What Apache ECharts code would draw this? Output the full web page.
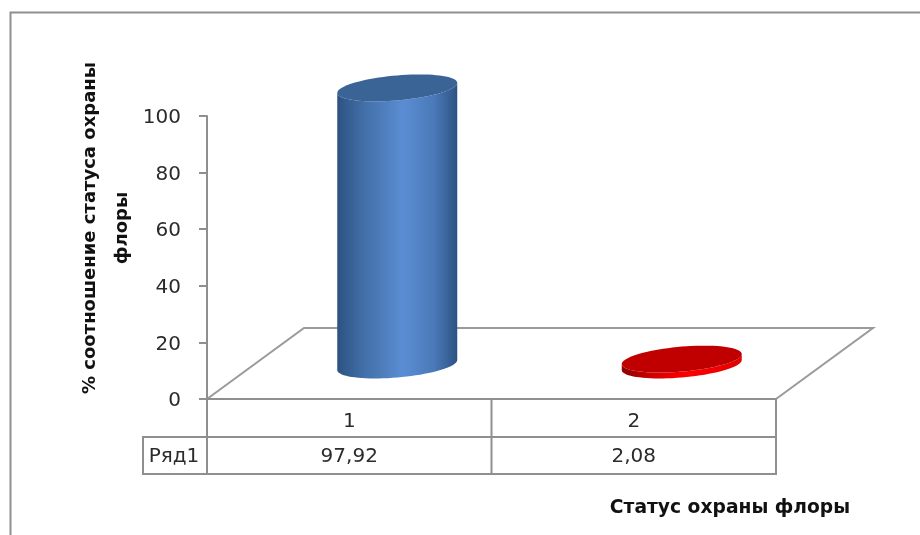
<!DOCTYPE html>
<html><head><meta charset="utf-8">
<style>html,body{margin:0;padding:0;background:#fff}#c{width:920px;height:535px}</style>
<script src="https://cdn.jsdelivr.net/npm/echarts@6/dist/echarts.min.js"></script>
</head><body><div id="c"></div>
<script>
var categories = ['1', '2'];
var seriesName = 'Ряд1';
var values = [97.92, 2.08];
var valueLabels = ['97,92', '2,08'];
var yTitle = '% соотношение статуса охраны\nфлоры';
var xTitle = 'Статус охраны флоры';
var FONT = '"DejaVu Sans", sans-serif';
var GRAY = '#8f8f8f';
var TXT = '#2b2b2b';

var bodyFills = [
  [[0,'#2c5282'],[0.22,'#426fa8'],[0.55,'#5a8dd3'],[0.8,'#4b7ab9'],[1,'#2d5385']],
  [[0,'#8c0000'],[0.25,'#d00000'],[0.55,'#ff0000'],[1,'#e00000']]
];
var topFills = ['#3b6496', '#c00000'];

function ring(cx, cy, from, to, n) {
  var pts = [];
  for (var i = 0; i <= n; i++) {
    var t = from + (to - from) * i / n;
    pts.push([cx + 60 * Math.cos(t), cy - 5 * Math.cos(t) + 12.5 * Math.sin(t)]);
  }
  return pts;
}

var chart = echarts.init(document.getElementById('c'), null, {renderer: 'canvas'});
chart.setOption({
  animation: false,
  backgroundColor: '#ffffff',
  grid: {left: 207, right: 144, top: 116, bottom: 136, containLabel: false},
  xAxis: {
    type: 'category', data: categories,
    axisLine: {lineStyle: {color: GRAY, width: 2}},
    axisTick: {show: false},
    axisLabel: {color: TXT, fontFamily: FONT, fontSize: 20, margin: 13}
  },
  yAxis: {
    type: 'value', min: 0, max: 100, interval: 20,
    axisLine: {show: true, lineStyle: {color: GRAY, width: 2}},
    axisTick: {show: true, length: 8, lineStyle: {color: GRAY, width: 2}},
    splitLine: {show: false},
    axisLabel: {
      color: TXT, fontFamily: FONT, fontSize: 20, margin: 26,
      formatter: '{a|{value}}',
      rich: {a: {color: TXT, fontFamily: FONT, fontSize: 20, padding: [4, 0, 0, 0]}}
    }
  },
  graphic: [
    // outer frame
    {type: 'polyline', z: 0, shape: {points: [[10.5,535],[10.5,12.5],[920,12.5]]}, style: {fill: null, stroke: GRAY, lineWidth: 2}},
    // floor
    {type: 'polyline', z: 0, shape: {points: [[207,399],[304,328],[873,328],[776,399]]}, style: {fill: null, stroke: '#9a9a9a', lineWidth: 2}},
    // data table
    {type: 'polyline', z: 0, shape: {points: [[207,437],[143,437],[143,474],[776,474],[776,399]]}, style: {fill: null, stroke: GRAY, lineWidth: 2}},
    {type: 'line', z: 0, shape: {x1: 207, y1: 437, x2: 776, y2: 437}, style: {stroke: GRAY, lineWidth: 2}},
    {type: 'line', z: 0, shape: {x1: 207, y1: 399, x2: 207, y2: 474}, style: {stroke: GRAY, lineWidth: 2}},
    {type: 'line', z: 0, shape: {x1: 491.5, y1: 399, x2: 491.5, y2: 474}, style: {stroke: GRAY, lineWidth: 2}},
    {type: 'text', z: 5, style: {text: seriesName, x: 174, y: 457, align: 'center', verticalAlign: 'middle', fill: TXT, font: '20px ' + FONT}},
    // titles
    {type: 'text', z: 5, x: 106, y: 228, rotation: Math.PI / 2, style: {text: yTitle, align: 'center', verticalAlign: 'middle', fill: '#111', font: 'bold 18px ' + FONT, lineHeight: 32}},
    {type: 'text', z: 5, style: {text: xTitle, x: 730, y: 508, align: 'center', verticalAlign: 'middle', fill: '#111', font: 'bold 18.7px ' + FONT}}
  ],
  series: [
    {
      type: 'custom', name: seriesName, data: values.map(function (v, i) { return [i, v]; }),
      coordinateSystem: 'cartesian2d', clip: false,
      renderItem: function (params, api) {
        var i = api.value(0), base = api.coord([i, 0]), top = api.coord([i, api.value(1)]);
        var cx = base[0] + 48, by = base[1] - 34, ty = top[1] - 34;
        var body = ring(cx, ty, Math.PI, 0, 40).concat(ring(cx, by, 0, Math.PI, 40));
        return {type: 'group', children: [
          {type: 'polygon', shape: {points: body}, style: {fill: new echarts.graphic.LinearGradient(0, 0, 1, 0,
            bodyFills[i].map(function (s) { return {offset: s[0], color: s[1]}; }))}},
          {type: 'polygon', shape: {points: ring(cx, ty, 0, Math.PI * 2, 80)}, style: {fill: topFills[i]}}
        ]};
      }
    },
    {
      type: 'custom', name: 'table', data: valueLabels.map(function (v, i) { return [i, 0, v]; }),
      coordinateSystem: 'cartesian2d', clip: false, silent: true,
      encode: {x: 0, y: 1},
      renderItem: function (params, api) {
        var i = api.value(0), p = api.coord([i, 0]);
        return {type: 'text', style: {text: valueLabels[i], x: p[0], y: 457, align: 'center', verticalAlign: 'middle', fill: TXT, font: '20px ' + FONT}};
      }
    }
  ]
});
</script></body></html>
